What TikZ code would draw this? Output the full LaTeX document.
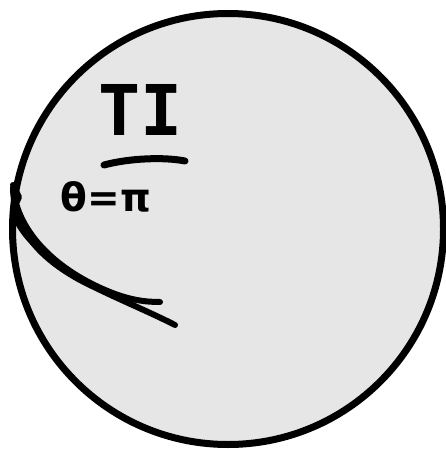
\documentclass[tikz,border=0pt]{standalone}
\usepackage{fontspec}
\newfontfamily\handmono{DejaVu Sans Mono}
\newfontfamily\handsans{DejaVu Sans}
\tikzset{
  ink/.style={line width=7pt, line cap=round, line join=round, draw=black},
  stroke/.style={line width=6pt, line cap=round, line join=round, draw=black},
}
\begin{document}
\begin{tikzpicture}[x=1pt,y=-1pt]
\useasboundingbox (0,0) rectangle (445,449);
\node[circle, ink, fill={rgb,255:red,230;green,230;blue,230}, minimum size=431pt, inner sep=0pt] (disk) at (228,229) {};
\node[inner sep=0pt] (ti) at (141,110) {\handmono\bfseries\fontsize{70}{70}\selectfont TI};
\node[inner sep=0pt] (th) at (106,197) {\handsans\bfseries\fontsize{39}{39}\selectfont θ=π};
\coordinate (b1) at (104,165);
\coordinate (b2) at (185,161);
\draw[line width=7pt, line cap=round] (b1) .. controls (130,158) and (165,157) .. (b2);
\coordinate (s0) at (13,188);
\coordinate (s1) at (175,325);
\coordinate (s2) at (160,302);
\draw[stroke] (s0) .. controls (14,230) and (40,258) .. (80,280) .. controls (115,298) and (150,312) .. (s1);
\draw[stroke] (s0) .. controls (18,235) and (60,272) .. (110,292) .. controls (130,300) and (145,302) .. (s2);
\draw[stroke, line width=5pt] (16,220) .. controls (30,250) and (70,275) .. (125,300);
\draw[stroke] (13,185) -- (19,197) -- (14,208);
\end{tikzpicture}
\end{document}
